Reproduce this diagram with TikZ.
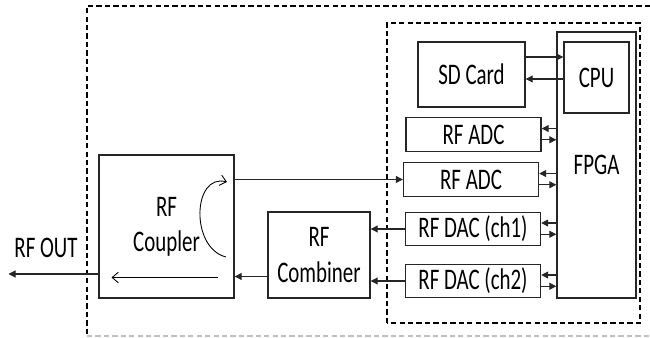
\documentclass[tikz,border=0pt]{standalone}
\usepackage{fontspec}
\setmainfont{Carlito}[FakeStretch=0.7]
\usetikzlibrary{positioning, calc, arrows.meta}

\begin{document}
\begin{tikzpicture}[font=\fontsize{17}{20}\selectfont, >={Triangle[length=4pt,width=4pt]},
  blk/.style={draw=black!85, line width=0.8pt, align=center, inner sep=0pt},
  conv/.style={blk, minimum width=2.7cm, minimum height=0.67cm},
  link/.style={->, line width=0.6pt, black!85},
  thin/.style={-{Straight Barb[length=3.5pt,width=6pt]}, line width=0.5pt},
  frame/.style={line width=0.7pt, dash pattern=on 3pt off 1.8pt}]

\useasboundingbox (0,0) rectangle (13,6.76);

%% -- dashed frames -------------------------------------------------
\draw[frame] (13,6.64) -- (1.74,6.64) -- (1.74,0.04);
\draw[frame, black!25] (1.74,0.04) -- (13,0.04);
\draw[frame] (7.74,0.30) rectangle (12.80,6.30);

%% -- board blocks --------------------------------------------------
\node[blk, minimum width=1.58cm, minimum height=5.32cm] (fpga) at (11.93,3.46) {FPGA};
\node[blk, minimum width=1.30cm, minimum height=1.42cm] (cpu) at (11.93,5.21) {CPU};
\node[blk, minimum width=2.14cm, minimum height=1.30cm] (sd) at (9.43,5.27) {SD Card};
\node[conv] (adc1) at (9.47,4.07) {RF ADC};
\node[conv] (adc2) at (9.42,3.17) {RF ADC};
\node[conv] (dac1) at (9.46,2.18) {RF DAC (ch1)};
\node[conv] (dac2) at (9.46,1.14) {RF DAC (ch2)};

%% -- front end -----------------------------------------------------
\node[blk, minimum width=2.70cm, minimum height=2.86cm] (coup) at (3.33,2.23) {RF\\Coupler};
\node[blk, minimum width=2.04cm, minimum height=1.72cm] (comb) at (6.38,1.66) {RF\\Combiner};
\node (out) at (0.92,1.80) {RF OUT};
\coordinate (outend) at (0.17,1.28);

%% -- SD card <-> CPU -----------------------------------------------
\draw[link] ([yshift=0.35cm]sd.east) -- ([yshift=0.35cm]sd.east -| cpu.west);
\draw[link] ([yshift=-0.09cm]sd.east -| cpu.west) -- ([yshift=-0.09cm]sd.east);

%% -- converters <-> FPGA -------------------------------------------
\foreach \n in {adc1,adc2,dac1,dac2}{
  \draw[link] ([yshift=3.4pt]\n.east -| fpga.west) -- ([yshift=3.4pt]\n.east);
  \draw[link] ([yshift=-3pt]\n.east) -- ([yshift=-3pt]\n.east -| fpga.west);
}

%% -- RF path -------------------------------------------------------
\draw[link] (adc2.west -| coup.east) -- (adc2.west);
\draw[link] (dac1.west) -- (dac1.west -| comb.east);
\draw[link] (dac2.west) -- (dac2.west -| comb.east);
\draw[link] ([yshift=-0.43cm]comb.west) -- ([yshift=-0.43cm]comb.west -| coup.east);
\draw[link] (outend -| coup.west) -- (outend);

%% -- coupler internals ---------------------------------------------
\draw[thin] (4.35,1.21) -- (2.23,1.21);
\draw[thin] (4.52,1.62) .. controls (3.8,1.8) and (3.85,3.3) .. (4.54,3.12);

\end{tikzpicture}
\end{document}
